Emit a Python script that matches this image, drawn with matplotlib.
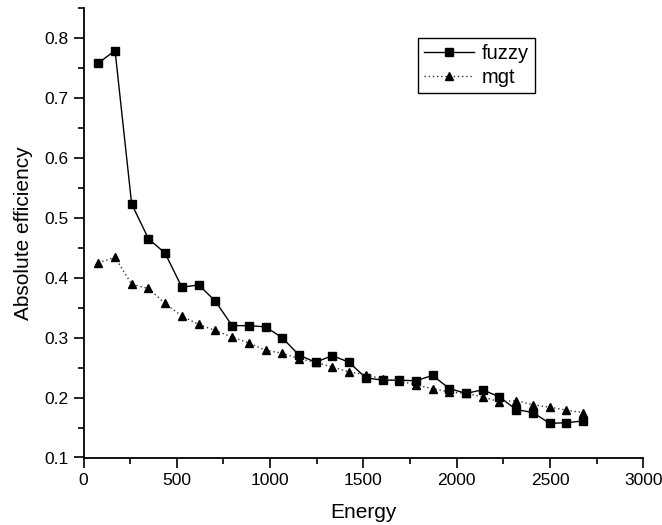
import matplotlib
matplotlib.use("Agg")
import matplotlib.pyplot as plt
from matplotlib.ticker import MultipleLocator

energy = [79, 169, 258, 348, 437, 527, 617, 706, 796, 885, 975, 1064, 1154,
          1243, 1333, 1422, 1512, 1602, 1691, 1781, 1870, 1960, 2049, 2139,
          2228, 2318, 2408, 2497, 2587, 2676]
fuzzy = [0.758, 0.779, 0.523, 0.465, 0.441, 0.384, 0.388, 0.361, 0.320, 0.320,
         0.318, 0.300, 0.271, 0.259, 0.270, 0.259, 0.233, 0.229, 0.229, 0.228,
         0.237, 0.215, 0.207, 0.213, 0.201, 0.180, 0.175, 0.157, 0.158, 0.161]
mgt = [0.425, 0.434, 0.389, 0.382, 0.357, 0.336, 0.322, 0.312, 0.301, 0.291,
       0.279, 0.274, 0.265, 0.259, 0.251, 0.243, 0.238, 0.231, 0.228, 0.221,
       0.215, 0.209, 0.207, 0.201, 0.193, 0.195, 0.188, 0.184, 0.179, 0.175]

plt.rcParams['font.family'] = ['Liberation Sans', 'DejaVu Sans']

fig = plt.figure(figsize=(6.62, 5.25), dpi=100)
ax = fig.add_axes([83.5/662, 67.5/525, 560/662, 449.5/525])

ax.plot(energy, fuzzy, color='black', lw=1.0, marker='s', ms=6,
        markeredgecolor='black', markerfacecolor='black', label='fuzzy')
ax.plot(energy, mgt, color='#333333', lw=1.0, ls=(0, (1, 2)), marker='^', ms=6,
        markeredgecolor='black', markerfacecolor='black', label='mgt')

ax.set_xlim(0, 3000)
ax.set_ylim(0.1, 0.85)
ax.xaxis.set_major_locator(MultipleLocator(500))
ax.xaxis.set_minor_locator(MultipleLocator(250))
ax.yaxis.set_minor_locator(MultipleLocator(0.05))
ax.set_yticks([0.1, 0.2, 0.3, 0.4, 0.5, 0.6, 0.7, 0.8])
ax.set_yticklabels(['0.1', '0.2', '0.3', '0.4', '0.5', '0.6', '0.7', '0.8'])

for s in ['top', 'right']:
    ax.spines[s].set_visible(False)
for s in ['left', 'bottom']:
    ax.spines[s].set_linewidth(1.3)
ax.tick_params(which='major', direction='out', length=7, width=1.2,
               labelsize=12.5, pad=4)
ax.tick_params(which='minor', direction='out', length=4, width=1.2)

ax.set_xlabel('Energy', fontsize=15, labelpad=11)
ax.set_ylabel('Absolute efficiency', fontsize=15, labelpad=8)

leg = ax.legend(loc='upper left',
                bbox_to_anchor=((418 - 83.5) / 560, (457.5 - 38) / 449.5),
                frameon=True, fancybox=False, fontsize=14.5, handlelength=2.5,
                borderpad=0.3, labelspacing=0.25, handletextpad=0.35,
                borderaxespad=0)
leg.get_frame().set_edgecolor('black')
leg.get_frame().set_linewidth(1.0)
leg.get_frame().set_alpha(1)

fig.savefig('out.png', dpi=100)
